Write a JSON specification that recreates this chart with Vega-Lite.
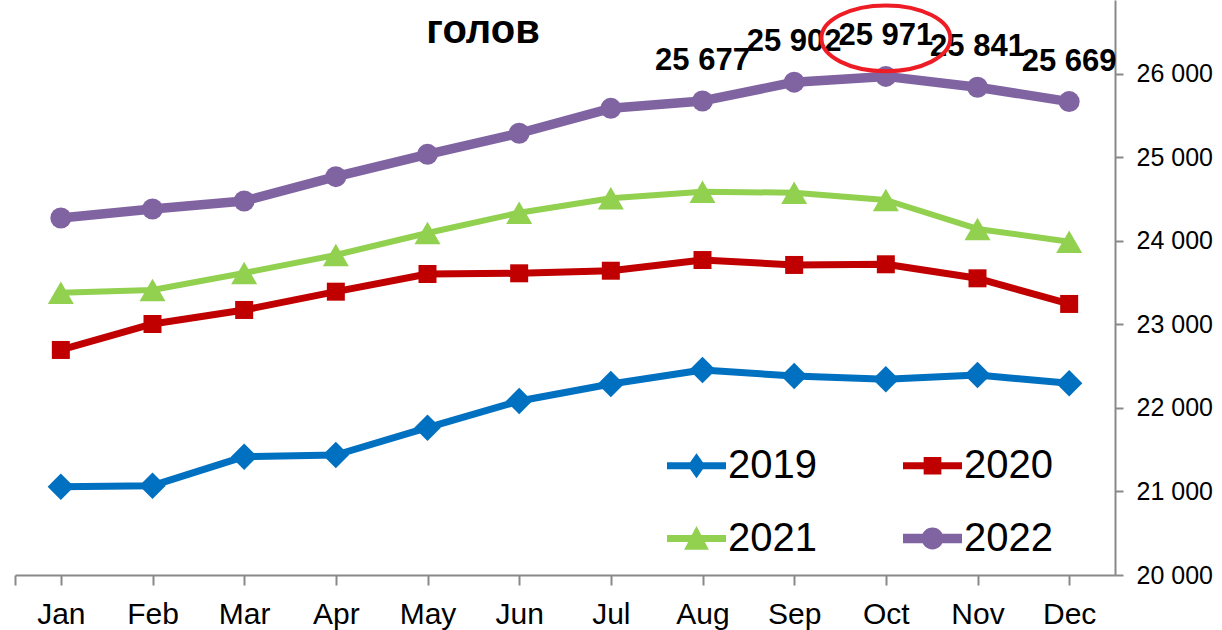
{
  "$schema": "https://vega.github.io/schema/vega-lite/v6.json",
  "width": 1100,
  "height": 575,
  "autosize": {"type": "none"},
  "padding": {"left": 15, "top": 0, "right": 107, "bottom": 55},
  "background": "white",
  "title": {"text": "голов", "anchor": "start", "frame": "group", "align": "center", "baseline": "middle", "dx": 468, "dy": 74, "offset": 0, "fontSize": 40, "fontWeight": "bold", "font": "Liberation Sans", "color": "black"},
  "data": {"values": [
    {"month": "Jan", "year": "2019", "value": 21058},
    {"month": "Feb", "year": "2019", "value": 21070},
    {"month": "Mar", "year": "2019", "value": 21417},
    {"month": "Apr", "year": "2019", "value": 21437},
    {"month": "May", "year": "2019", "value": 21764},
    {"month": "Jun", "year": "2019", "value": 22084},
    {"month": "Jul", "year": "2019", "value": 22287},
    {"month": "Aug", "year": "2019", "value": 22455},
    {"month": "Sep", "year": "2019", "value": 22383},
    {"month": "Oct", "year": "2019", "value": 22344},
    {"month": "Nov", "year": "2019", "value": 22395},
    {"month": "Dec", "year": "2019", "value": 22296},
    {"month": "Jan", "year": "2020", "value": 22695},
    {"month": "Feb", "year": "2020", "value": 23006},
    {"month": "Mar", "year": "2020", "value": 23174},
    {"month": "Apr", "year": "2020", "value": 23393},
    {"month": "May", "year": "2020", "value": 23605},
    {"month": "Jun", "year": "2020", "value": 23613},
    {"month": "Jul", "year": "2020", "value": 23644},
    {"month": "Aug", "year": "2020", "value": 23772},
    {"month": "Sep", "year": "2020", "value": 23713},
    {"month": "Oct", "year": "2020", "value": 23721},
    {"month": "Nov", "year": "2020", "value": 23553},
    {"month": "Dec", "year": "2020", "value": 23246},
    {"month": "Jan", "year": "2021", "value": 23381},
    {"month": "Feb", "year": "2021", "value": 23413},
    {"month": "Mar", "year": "2021", "value": 23617},
    {"month": "Apr", "year": "2021", "value": 23832},
    {"month": "May", "year": "2021", "value": 24096},
    {"month": "Jun", "year": "2021", "value": 24339},
    {"month": "Jul", "year": "2021", "value": 24511},
    {"month": "Aug", "year": "2021", "value": 24590},
    {"month": "Sep", "year": "2021", "value": 24578},
    {"month": "Oct", "year": "2021", "value": 24491},
    {"month": "Nov", "year": "2021", "value": 24144},
    {"month": "Dec", "year": "2021", "value": 23992},
    {"month": "Jan", "year": "2022", "value": 24275},
    {"month": "Feb", "year": "2022", "value": 24383},
    {"month": "Mar", "year": "2022", "value": 24479},
    {"month": "Apr", "year": "2022", "value": 24770},
    {"month": "May", "year": "2022", "value": 25038},
    {"month": "Jun", "year": "2022", "value": 25290},
    {"month": "Jul", "year": "2022", "value": 25589},
    {"month": "Aug", "year": "2022", "value": 25677},
    {"month": "Sep", "year": "2022", "value": 25902},
    {"month": "Oct", "year": "2022", "value": 25971},
    {"month": "Nov", "year": "2022", "value": 25841},
    {"month": "Dec", "year": "2022", "value": 25669}
  ]},
  "encoding": {
    "x": {"field": "month", "type": "nominal", "sort": ["Jan","Feb","Mar","Apr","May","Jun","Jul","Aug","Sep","Oct","Nov","Dec"],
      "scale": {"paddingInner": 0, "paddingOuter": 0},
      "axis": {"title": null, "labelAngle": 0, "labelFontSize": 30, "labelFont": "Liberation Sans", "labelColor": "black", "labelPadding": 14, "tickSize": 10, "tickColor": "#898989", "tickWidth": 2, "domainColor": "#898989", "domainWidth": 2, "bandPosition": 0, "tickExtra": true, "grid": false}},
    "y": {"field": "value", "type": "quantitative",
      "scale": {"domain": [20000, 26886], "nice": false, "zero": false},
      "axis": {"title": null, "orient": "right", "values": [20000,21000,22000,23000,24000,25000,26000], "format": ",d", "labelFontSize": 25, "labelFont": "Liberation Sans", "labelColor": "black", "labelPadding": 13, "tickSize": 8, "tickColor": "#898989", "tickWidth": 2, "domainColor": "#898989", "domainWidth": 2, "grid": false}}
  },
  "layer": [
    {"mark": {"type": "line", "strokeJoin": "round", "strokeCap": "butt"},
      "encoding": {
        "color": {"field": "year", "type": "nominal", "scale": {"domain": ["2019","2020","2021","2022"], "range": ["#0070C0","#C00000","#92D050","#8064A2"]}, "legend": null},
        "strokeWidth": {"field": "year", "type": "nominal", "scale": {"type": "ordinal", "domain": ["2019","2020","2021","2022"], "range": [7,7,6,9.5]}, "legend": null}
      }},
    {"mark": {"type": "point", "filled": true, "opacity": 1, "strokeWidth": 0},
      "encoding": {
        "color": {"field": "year", "type": "nominal", "legend": null},
        "shape": {"field": "year", "type": "nominal", "scale": {"domain": ["2019","2020","2021","2022"], "range": ["diamond","square","triangle-up","circle"]}, "legend": null},
        "size": {"field": "year", "type": "nominal", "scale": {"type": "ordinal", "domain": ["2019","2020","2021","2022"], "range": [700,324,676,441]}, "legend": null}
      }},
    {"transform": [{"filter": "datum.year === 'none'"}],
      "mark": {"type": "point", "filled": true, "opacity": 1, "strokeWidth": 0},
      "encoding": {
        "fill": {"field": "year", "type": "nominal",
          "scale": {"domain": ["2019","2020","2021","2022"], "range": ["#0070C0","#C00000","#92D050","#8064A2"]},
          "legend": {"title": null, "orient": "none", "legendX": 652, "legendY": 436, "direction": "horizontal", "columns": 2, "symbolSize": 3481, "labelFontSize": 40, "labelFont": "Liberation Sans", "labelColor": "black", "labelOffset": 2, "columnPadding": 86, "rowPadding": 23, "padding": 0, "symbolStrokeWidth": 0, "symbolOpacity": 1}},
        "shape": {"field": "year", "type": "nominal",
          "scale": {"domain": ["2019","2020","2021","2022"], "range": [
            "M-1,-0.12H1V0.12H-1ZM-0.3,0L0,-0.42L0.3,0L0,0.42Z",
            "M-1,-0.12H1V0.12H-1ZM-0.3,-0.3H0.3V0.3H-0.3Z",
            "M-1,-0.12H1V0.12H-1ZM0,-0.42L0.42,0.38H-0.42Z",
            "M-1,-0.16H1V0.16H-1ZM-0.37,0A0.37,0.37,0,1,1,0.37,0A0.37,0.37,0,1,1,-0.37,0Z"
          ]},
          "legend": {"title": null, "orient": "none", "legendX": 652, "legendY": 436, "direction": "horizontal", "columns": 2, "symbolSize": 3481, "labelFontSize": 40, "labelFont": "Liberation Sans", "labelColor": "black", "labelOffset": 2, "columnPadding": 86, "rowPadding": 23, "padding": 0, "symbolStrokeWidth": 0, "symbolOpacity": 1}
        }
      }},
    {"transform": [{"filter": "datum.year === '2022' && indexof(['Aug','Sep','Oct','Nov','Dec'], datum.month) >= 0"}],
      "mark": {"type": "text", "dy": -40, "baseline": "middle", "align": "center", "fontSize": 31, "fontWeight": "bold", "font": "Liberation Sans", "color": "black"},
      "encoding": {"text": {"field": "value", "type": "quantitative", "format": ",d"}}},
    {"transform": [{"filter": "datum.year === '2022' && datum.month === 'Oct'"}],
      "mark": {"type": "point", "shape": "M-1,-0.59A1,0.51,0,1,1,1,-0.59A1,0.51,0,1,1,-1,-0.59Z", "size": 16641, "filled": false, "stroke": "#EE1C25", "strokeWidth": 4, "opacity": 1}}
  ],
  "resolve": {"scale": {"shape": "independent", "fill": "independent"}},
  "config": {
    "view": {"stroke": null},
    "font": "Liberation Sans",
    "locale": {"number": {"decimal": ",", "thousands": " ", "grouping": [3], "currency": ["", ""]}}
  }
}
